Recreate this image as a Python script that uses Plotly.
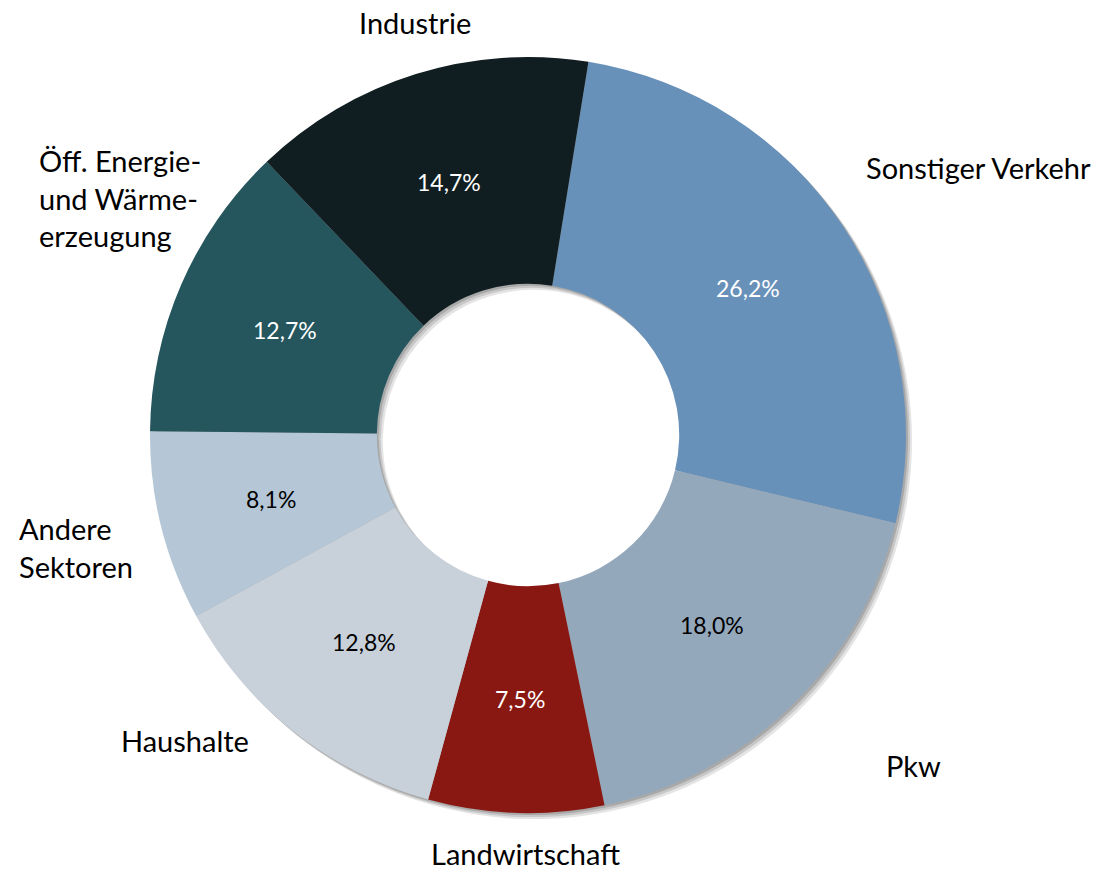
import math
import plotly.graph_objects as go

# ---- data ----
labels = ["Sonstiger Verkehr", "Pkw", "Landwirtschaft", "Haushalte",
          "Andere<br>Sektoren", "Öff. Energie-<br>und Wärme-<br>erzeugung", "Industrie"]
values = [26.2, 18.0, 7.5, 12.8, 8.1, 12.7, 14.7]
colors = ["#6891BA", "#94A8BC", "#8A1812", "#C8D0DA", "#B5C7D6", "#25565E", "#101E21"]
text_colors = ["white", "black", "white", "black", "black", "white", "white"]

# ---- layout (page pixels; body margin removed so the figure starts at 0,0) ----
W, H = 1101, 872
OFF = 0
CX, CY, R = 528, 435, 378
HOLE = 0.4
ROT = 9.2
FONT = "Lato"
# category label anchors (page pixels) and horizontal anchor
LABEL_POS = [(978, 168, "center"), (913, 765, "center"), (525, 853, "center"),
             (185, 740, "center"), (17, 547, "left"), (37, 198, "left"),
             (415, 22, "center")]


def px2paper(px, py):
    return (px - OFF) / W, 1 - (py - OFF) / H


def dom(dx=0, dy=0):
    x0, y1 = px2paper(CX - R + dx, CY - R + dy)
    x1, y0 = px2paper(CX + R + dx, CY + R + dy)
    return dict(x=[x0, x1], y=[y0, y1])


fig = go.Figure()

# soft shadow (several faint offset copies)
for off, op in [(6, 0.10), (4, 0.12), (2, 0.15)]:
    fig.add_trace(go.Pie(
        values=values, labels=labels, sort=False, direction="clockwise",
        rotation=ROT, hole=HOLE, domain=dom(off, off),
        marker=dict(colors=["#000000"] * len(values), line=dict(width=0)),
        opacity=op, textinfo="none", hoverinfo="skip", showlegend=False,
    ))

fig.add_trace(go.Pie(
    values=values, labels=labels, sort=False, direction="clockwise",
    rotation=ROT, hole=HOLE, domain=dom(),
    marker=dict(colors=colors, line=dict(width=0)),
    textinfo="none", showlegend=False,
))

annotations = []
# percentage labels at mid-ring, mid-angle of each slice
total = sum(values)
cum = 0.0
r_mid = R * (1 + HOLE) / 2
for v, tc in zip(values, text_colors):
    mid = math.radians(ROT + (cum + v / 2) / total * 360)
    cum += v
    x, y = px2paper(CX + r_mid * math.sin(mid), CY - r_mid * math.cos(mid))
    annotations.append(dict(
        x=x, y=y, xref="paper", yref="paper", showarrow=False,
        text=f"{v:.1f}".replace(".", ",") + "%",
        xanchor="center", yanchor="middle",
        font=dict(family=FONT, size=23, color=tc),
    ))

# category labels
for lab, (lx, ly, xa) in zip(labels, LABEL_POS):
    x, y = px2paper(lx, ly)
    annotations.append(dict(
        x=x, y=y, xref="paper", yref="paper", showarrow=False,
        text=lab, xanchor=xa, yanchor="middle", align="left",
        font=dict(family=FONT, size=29, color="black"),
    ))

fig.update_layout(
    width=W, height=H, margin=dict(l=0, r=0, t=0, b=0),
    paper_bgcolor="white", plot_bgcolor="white",
    annotations=annotations,
)

fig.write_html("out.html", config={"displayModeBar": False},
               post_script="document.body.style.margin='0';")
